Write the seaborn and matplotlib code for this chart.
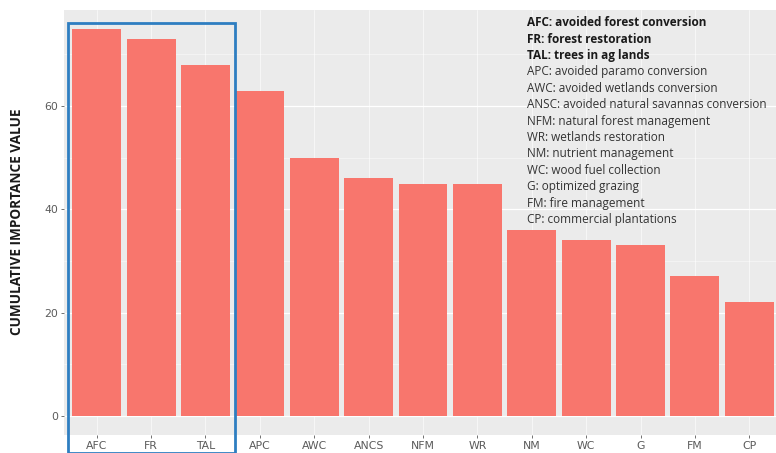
import matplotlib
matplotlib.use('Agg')
import matplotlib.pyplot as plt
import seaborn as sns
from matplotlib.patches import Rectangle

# data
categories = ['AFC', 'FR', 'TAL', 'APC', 'AWC', 'ANCS', 'NFM', 'WR', 'NM', 'WC', 'G', 'FM', 'CP']
values = [75, 73, 68, 63, 50, 46, 45, 45, 36, 34, 33, 27, 22]
key_lines = [
    'AFC: avoided forest conversion',
    'FR: forest restoration',
    'TAL: trees in ag lands',
    'APC: avoided paramo conversion',
    'AWC: avoided wetlands conversion',
    'ANSC: avoided natural savannas conversion',
    'NFM: natural forest management',
    'WR: wetlands restoration',
    'NM: nutrient management',
    'WC: wood fuel collection',
    'G: optimized grazing',
    'FM: fire management',
    'CP: commercial plantations',
]
n_bold = 3

W, H = 776, 453
fig = plt.figure(figsize=(W / 100, H / 100), dpi=100)
# panel runs off the right edge like in the screenshot
ax = fig.add_axes([64 / W, 1 - 435 / H, (782 - 64) / W, (435 - 10) / H])
ax.set_facecolor('#EBEBEB')

sns.barplot(x=categories, y=values, color='#F8766D', saturation=1, width=0.9, ax=ax)

ax.set_xlim(-0.6, len(categories) - 0.4)
ax.set_ylim(-3.7, 78.6)
ax.set_yticks([0, 20, 40, 60])
ax.set_yticks([10, 30, 50, 70], minor=True)
ax.grid(True, which='major', axis='y', color='white', linewidth=0.9)
ax.grid(True, which='major', axis='x', color='white', linewidth=0.5, alpha=0.8)
ax.grid(True, which='minor', axis='y', color='white', linewidth=0.4, alpha=0.8)
ax.set_axisbelow(True)
for s in ax.spines.values():
    s.set_visible(False)
ax.tick_params(axis='both', which='major', colors='#5A5A5A', labelsize=7.8, length=2.5, width=0.6, pad=1.5)
ax.tick_params(axis='y', which='minor', length=0)
ax.set_xlabel('')
ax.set_ylabel('')

fig.text(17 / W, 1 - 222 / H, 'CUMULATIVE IMPORTANCE VALUE', rotation=90, ha='center', va='center',
         fontsize=9.8, fontweight='bold', color='#1A1A1A', family='Open Sans')

# highlight box round the first three bars
fig.patches.append(Rectangle((68 / W, 1 - 453 / H), (235 - 68) / W, (453 - 23) / H,
                             transform=fig.transFigure, fill=False, edgecolor='#2E7EC1', linewidth=2))

# key text
for i, line in enumerate(key_lines):
    fig.text(527 / W, 1 - (22.7 + i * 16.4) / H, line, ha='left', va='center', fontsize=8.5,
             family='Open Sans', color='#1A1A1A' if i < n_bold else '#333333',
             fontweight='bold' if i < n_bold else 'normal')

fig.savefig('out.png', dpi=100)
